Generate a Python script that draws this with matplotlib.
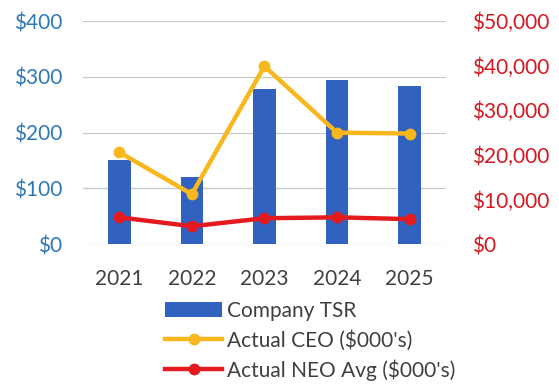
import matplotlib.pyplot as plt
from matplotlib.ticker import FuncFormatter

years = ["2021", "2022", "2023", "2024", "2025"]
tsr = [151, 120, 278, 294, 284]
ceo_pay = [20600, 11200, 39900, 25000, 24800]
neo_avg = [6000, 4000, 5800, 6000, 5600]

BLUE = "#3162BF"
GOLD = "#F7B71D"
RED = "#E51A1F"

plt.rcParams['font.family'] = ['Lato', 'DejaVu Sans']

fig = plt.figure(figsize=(5.59, 3.85), dpi=100)
ax = fig.add_axes([0.1485, 0.366, 0.649, 0.579])
ax2 = ax.twinx()

x = range(len(years))
bars = ax.bar(x, tsr, width=0.31, color=BLUE, zorder=2, label="Company TSR")
ax.set_ylim(0, 400)
ax.set_yticks([0, 100, 200, 300, 400])
ax.yaxis.set_major_formatter(FuncFormatter(lambda v, p: f"${v:,.0f}"))
ax.grid(axis='y', color='#c8c8c8', lw=0.9, zorder=0)
ax.set_axisbelow(True)
ax.set_xlim(-0.5, 4.5)
ax.set_xticks(list(x))
ax.set_xticklabels(years)

l1, = ax2.plot(x, ceo_pay, color=GOLD, lw=3.2, marker='o', ms=7.5, label="Actual CEO ($000's)")
l2, = ax2.plot(x, neo_avg, color=RED, lw=3.2, marker='o', ms=7.5, label="Actual NEO Avg ($000's)")
ax2.set_ylim(0, 50000)
ax2.set_yticks(range(0, 50001, 10000))
ax2.yaxis.set_major_formatter(FuncFormatter(lambda v, p: f"${v:,.0f}"))

for a in (ax, ax2):
    for s in a.spines.values():
        s.set_visible(False)
    a.tick_params(length=0)

ax.tick_params(axis='y', labelsize=15, labelcolor="#2E78BA", pad=15)
ax.tick_params(axis='x', labelsize=15, labelcolor="#404040", pad=18)
ax2.tick_params(axis='y', labelsize=15, labelcolor="#D41820", pad=19)

fig.legend(handles=[bars, l1, l2], loc='upper left', bbox_to_anchor=(0.295, 0.218),
           frameon=False, fontsize=15, handlelength=2.75, handletextpad=0.24,
           labelspacing=0.42, borderaxespad=0, borderpad=0, labelcolor="#404040")

fig.savefig("out.png", dpi=100)
